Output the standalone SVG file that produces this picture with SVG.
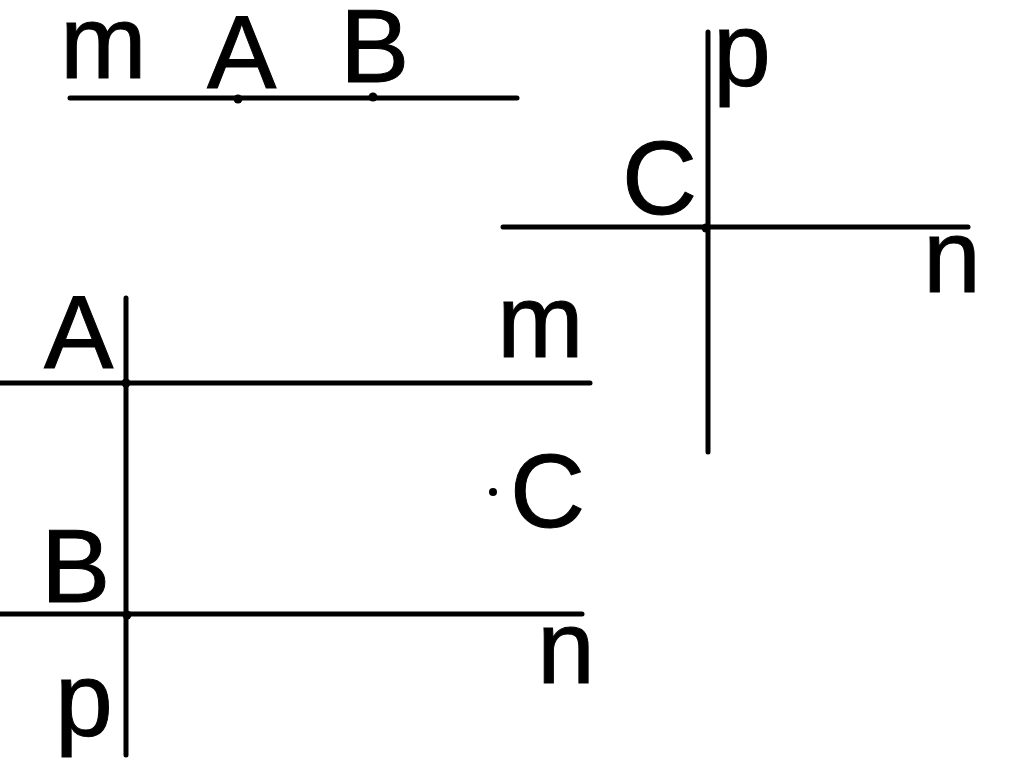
<svg xmlns="http://www.w3.org/2000/svg" width="1024" height="781" viewBox="0 0 1024 781">
<style>
.ln{stroke:#000;stroke-width:5;stroke-linecap:round;fill:none}
.lb{font-family:"Liberation Sans",Arial,sans-serif;font-size:104px;fill:#000;stroke:#000;stroke-width:1}
.pt{fill:#000}
</style>
<rect width="1024" height="781" fill="#fff"/>
<g id="connectors">
<line class="ln" x1="70" y1="98" x2="517" y2="98"/>
<line class="ln" x1="708" y1="32" x2="708" y2="452"/>
<line class="ln" x1="503" y1="227" x2="968" y2="227"/>
<line class="ln" x1="126" y1="298" x2="126" y2="755"/>
<line class="ln" x1="0" y1="383" x2="590" y2="383"/>
<line class="ln" x1="0" y1="614" x2="582" y2="614"/>
</g>
<g id="fig1">
<text class="lb" x="60" y="78">m</text>
<text class="lb" x="207" y="88">A</text>
<text class="lb" x="340" y="82">B</text>
<circle class="pt" cx="238" cy="99" r="4.5"/>
<circle class="pt" cx="373" cy="97" r="4.5"/>
</g>
<g id="fig2">
<text class="lb" x="713" y="85">p</text>
<text class="lb" x="622" y="214">C</text>
<text class="lb" x="923" y="292">n</text>
<circle class="pt" cx="706" cy="228" r="4.5"/>
</g>
<g id="fig3">
<text class="lb" x="44" y="368">A</text>
<text class="lb" x="497" y="357">m</text>
<text class="lb" x="510" y="527">C</text>
<text class="lb" x="41" y="602">B</text>
<text class="lb" x="537" y="683">n</text>
<text class="lb" x="55" y="735">p</text>
<circle class="pt" cx="126" cy="383" r="4.5"/>
<circle class="pt" cx="127" cy="615" r="4.5"/>
<circle class="pt" cx="493" cy="492" r="4"/>
</g>
</svg>
